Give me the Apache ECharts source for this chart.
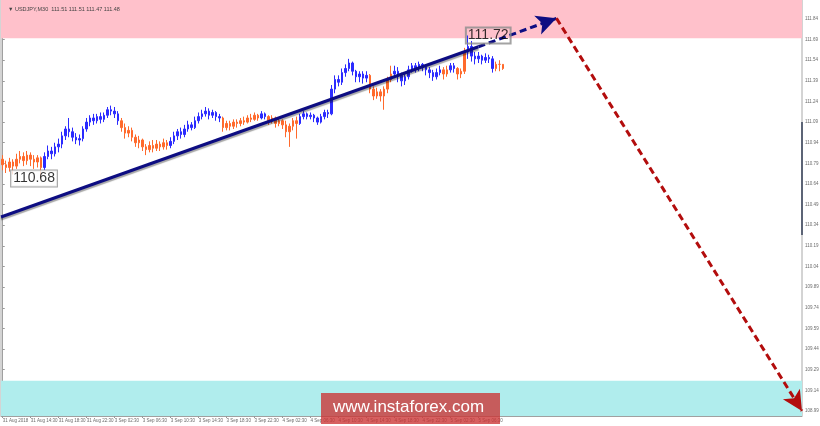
<!DOCTYPE html>
<html>
<head>
<meta charset="utf-8">
<script src="https://cdn.jsdelivr.net/npm/echarts@6/dist/echarts.min.js"></script>
<style>
  html, body { margin: 0; padding: 0; background: #fff; }
  #chart { width: 820px; height: 426px; }
</style>
</head>
<body>
<div id="chart"></div>
<script>
// USDJPY M30 bars: [open, close, low, high]
var bars = [
  [110.82,110.78,110.74,110.85],[110.78,110.76,110.72,110.81],[110.76,110.80,110.73,110.83],[110.80,110.77,110.71,110.82],
  [110.77,110.82,110.75,110.86],[110.82,110.84,110.79,110.88],[110.84,110.81,110.77,110.87],[110.81,110.85,110.78,110.88],
  [110.85,110.82,110.77,110.87],[110.82,110.80,110.75,110.85],[110.80,110.83,110.76,110.85],[110.83,110.76,110.68,110.84],
  [110.76,110.84,110.74,110.87],[110.84,110.88,110.82,110.92],[110.88,110.86,110.82,110.91],[110.86,110.91,110.84,110.94],
  [110.91,110.93,110.87,110.97],[110.93,110.99,110.90,111.02],[110.99,111.04,110.96,111.06],[111.04,111.02,110.98,111.12],
  [111.02,110.98,110.95,111.05],[110.98,110.96,110.93,111.01],[110.96,110.97,110.92,111.00],[110.97,111.04,110.95,111.06],
  [111.04,111.09,111.02,111.12],[111.09,111.12,111.06,111.14],[111.12,111.10,111.07,111.15],[111.10,111.13,111.08,111.15],
  [111.13,111.11,111.08,111.16],[111.11,111.14,111.09,111.16],[111.14,111.18,111.12,111.20],[111.18,111.17,111.14,111.21],
  [111.17,111.15,111.12,111.20],[111.15,111.10,111.07,111.17],[111.10,111.05,111.02,111.12],[111.05,111.01,110.97,111.08],
  [111.01,111.03,110.98,111.06],[111.03,110.98,110.95,111.05],[110.98,110.94,110.91,111.00],[110.94,110.96,110.90,110.99],
  [110.96,110.91,110.88,110.97],[110.91,110.89,110.85,110.93],[110.89,110.92,110.87,110.95],[110.92,110.90,110.87,110.96],
  [110.90,110.93,110.88,110.96],[110.93,110.91,110.88,110.95],[110.91,110.94,110.89,110.97],[110.94,110.92,110.89,110.96],
  [110.92,110.95,110.90,110.98],[110.95,110.99,110.93,111.02],[110.99,111.02,110.96,111.04],[111.02,111.00,110.97,111.05],
  [111.00,111.04,110.98,111.07],[111.04,111.07,111.02,111.10],[111.07,111.05,111.03,111.09],[111.05,111.10,111.04,111.13],
  [111.10,111.13,111.08,111.16],[111.13,111.15,111.11,111.18],[111.15,111.17,111.13,111.20],[111.17,111.14,111.11,111.19],
  [111.14,111.16,111.12,111.18],[111.16,111.13,111.10,111.17],[111.13,111.12,111.09,111.15],[111.12,111.05,111.02,111.13],
  [111.05,111.08,111.03,111.10],[111.08,111.06,111.03,111.10],[111.06,111.09,111.04,111.11],[111.09,111.08,111.05,111.11],
  [111.08,111.10,111.06,111.12],[111.10,111.09,111.07,111.13],[111.09,111.12,111.08,111.14],[111.12,111.11,111.09,111.15],
  [111.11,111.14,111.10,111.16],[111.14,111.12,111.10,111.15],[111.12,111.15,111.11,111.17],[111.15,111.13,111.11,111.16],
  [111.13,111.10,111.07,111.14],[111.10,111.12,111.08,111.14],[111.12,111.08,111.05,111.13],[111.08,111.10,111.06,111.12],
  [111.10,111.07,111.04,111.11],[111.07,111.02,110.98,111.10],[111.02,111.06,110.91,111.08],[111.06,111.10,111.03,111.12],
  [111.10,111.08,110.97,111.13],[111.08,111.13,111.07,111.15],[111.13,111.15,111.11,111.17],[111.15,111.13,111.11,111.16],
  [111.13,111.14,111.11,111.16],[111.14,111.12,111.09,111.15],[111.12,111.09,111.07,111.13],[111.09,111.13,111.08,111.15],
  [111.13,111.16,111.11,111.18],[111.16,111.15,111.12,111.18],[111.15,111.33,111.14,111.36],[111.33,111.40,111.30,111.43],
  [111.40,111.38,111.35,111.43],[111.38,111.45,111.36,111.48],[111.45,111.48,111.42,111.51],[111.48,111.52,111.46,111.55],
  [111.52,111.46,111.43,111.53],[111.46,111.42,111.38,111.47],[111.42,111.44,111.38,111.46],[111.44,111.41,111.37,111.46],
  [111.41,111.43,111.38,111.46],[111.43,111.33,111.30,111.44],[111.33,111.28,111.25,111.35],[111.28,111.31,111.26,111.34],
  [111.31,111.28,111.24,111.33],[111.28,111.33,111.18,111.35],[111.33,111.40,111.30,111.42],[111.40,111.44,111.38,111.50],
  [111.44,111.46,111.41,111.50],[111.46,111.43,111.38,111.49],[111.43,111.39,111.35,111.45],[111.39,111.42,111.36,111.45],
  [111.42,111.47,111.40,111.50],[111.47,111.50,111.45,111.52],[111.50,111.48,111.45,111.52],[111.48,111.51,111.46,111.53],
  [111.51,111.49,111.46,111.52],[111.49,111.47,111.43,111.51],[111.47,111.45,111.41,111.49],[111.45,111.42,111.39,111.47],
  [111.42,111.45,111.40,111.48],[111.45,111.47,111.43,111.50],[111.47,111.44,111.40,111.49],[111.44,111.47,111.42,111.50],
  [111.47,111.50,111.45,111.52],[111.50,111.48,111.45,111.52],[111.48,111.44,111.40,111.49],[111.44,111.46,111.41,111.48],
  [111.46,111.60,111.44,111.63],[111.60,111.64,111.55,111.72],[111.64,111.57,111.53,111.68],[111.57,111.55,111.51,111.60],
  [111.55,111.57,111.52,111.60],[111.57,111.54,111.51,111.58],[111.54,111.56,111.52,111.59],[111.56,111.55,111.52,111.58],
  [111.55,111.48,111.45,111.57],[111.48,111.51,111.46,111.53],[111.51,111.51,111.46,111.54],[111.51,111.48,111.47,111.51]
];
// bar index ranges of the rising legs (drawn blue), everything else orange
var upLegs = [[12,33],[48,62],[74,75],[85,104],[112,125],[128,129],[133,140]];

// time axis: one label every 8 bars (4 hours)
var timeLabels = ['31 Aug 2018','31 Aug 14:30','31 Aug 18:30','31 Aug 22:30','3 Sep 02:30','3 Sep 06:30',
  '3 Sep 10:30','3 Sep 14:30','3 Sep 18:30','3 Sep 22:30','4 Sep 02:30','4 Sep 06:30','4 Sep 10:30',
  '4 Sep 14:30','4 Sep 18:30','4 Sep 22:30','5 Sep 02:30','5 Sep 06:30'];
var labelStep = 8;
var slotCount = 229;

var priceTicks = [108.99,109.14,109.29,109.44,109.59,109.74,109.89,110.04,110.19,110.34,
  110.49,110.64,110.79,110.94,111.09,111.24,111.39,111.54,111.69,111.84];
var yMin = 108.953, yMax = 111.978;

var sellZone = [111.70, yMax];
var buyZone = [yMin, 109.21];

// wave line (bar index, price)
var waveLine = [[-0.5, 110.40], [136, 111.638]];
var waveTarget = [158.3, 111.845];
var forecastEnd = [228.5, 108.99];
var lowMark = { name: '110.68', at: [2.4, 110.68] };
var highMark = { name: '111.72', at: [132.4, 111.72] };
var lastPrice = 111.48;
var scaleBar = [111.09, 110.27];

var BLUE = '#2b2bff', ORANGE = '#ff6a2c', NAVY = '#0d0d82', RED = '#b30d0d';
var TINY = { fontSize: 4.5, color: '#6a6a6a', fontFamily: 'Liberation Sans' };

function legColor(i) {
  for (var k = 0; k < upLegs.length; k++) {
    if (i >= upLegs[k][0] && i <= upLegs[k][1]) return BLUE;
  }
  return ORANGE;
}

var cats = [];
for (var i = 0; i < slotCount; i++) cats.push('b' + i);

var candleData = bars.map(function (b, i) {
  var c = legColor(i);
  return { value: b, itemStyle: { color: c, color0: c, borderColor: c, borderColor0: c, borderWidth: 1 } };
});

function isLabelSlot(idx) {
  return idx % labelStep === 0 && idx / labelStep < timeLabels.length;
}

var chart = echarts.init(document.getElementById('chart'));
chart.setOption({
  animation: false,
  backgroundColor: '#fff',
  title: {
    text: '\u25BC USDJPY,M30  111.51 111.51 111.47 111.48',
    left: 3, top: 1,
    textStyle: { fontSize: 5.5, fontWeight: 'normal', color: '#444', fontFamily: 'Liberation Sans' }
  },
  grid: { left: 1, right: 18, top: 0, bottom: 10, show: true, borderColor: '#a8a8a8', borderWidth: 1, outerBoundsMode: 'none' },
  xAxis: [{
    type: 'category',
    data: cats,
    boundaryGap: true,
    axisLine: { lineStyle: { color: '#a0a0a0' } },
    axisTick: { show: true, length: 2, alignWithLabel: true, interval: function (idx) { return isLabelSlot(idx); }, lineStyle: { color: '#999' } },
    axisLabel: Object.assign({
      interval: function (idx) { return isLabelSlot(idx); },
      formatter: function (v, idx) { return isLabelSlot(idx) ? timeLabels[idx / labelStep] : ''; },
      showMinLabel: true,
      hideOverlap: false,
      align: 'left', margin: 2
    }, TINY),
    splitLine: { show: false }
  }, {
    type: 'value',
    min: -0.5, max: slotCount - 0.5,
    show: false
  }],
  yAxis: {
    type: 'value',
    position: 'right',
    min: yMin, max: yMax,
    axisLine: { show: true, lineStyle: { color: '#a0a0a0' } },
    axisTick: { show: true, length: 2, customValues: priceTicks, lineStyle: { color: '#999' } },
    axisLabel: Object.assign({
      customValues: priceTicks,
      formatter: function (v) { return v.toFixed(2); },
      margin: 3
    }, TINY),
    splitLine: { show: false }
  },
  series: [{
    name: 'zones',
    type: 'line',
    data: [],
    z: 1,
    silent: true,
    markArea: {
      silent: true,
      data: [
        [{ yAxis: sellZone[0], itemStyle: { color: '#ffc1cb' } }, { yAxis: sellZone[1] }],
        [{ yAxis: buyZone[0], itemStyle: { color: '#b0eded' } }, { yAxis: buyZone[1] }]
      ]
    }
  }, {
    name: 'USDJPY',
    type: 'candlestick',
    data: candleData,
    barWidth: 2,
    z: 3,
    markLine: {
      silent: true,
      symbol: 'none',
      lineStyle: { opacity: 0 },
      label: {
        position: 'end', distance: 1, formatter: lastPrice.toFixed(2),
        color: '#fff', backgroundColor: '#3e4858', padding: [1, 2], fontSize: 4.5, fontFamily: 'Liberation Sans'
      },
      data: [{ yAxis: lastPrice }]
    }
  }, {
    name: 'wave',
    type: 'line',
    xAxisIndex: 1,
    data: waveLine,
    symbol: 'none',
    z: 4,
    lineStyle: { color: NAVY, width: 3, shadowColor: 'rgba(0,0,0,0.35)', shadowOffsetY: 2, shadowBlur: 1 },
    markLine: {
      silent: true,
      symbol: ['none', 'arrow'],
      symbolSize: [15, 20],
      label: { show: false },
      data: [
        [{ coord: waveLine[1], lineStyle: { color: NAVY, width: 3, type: [7, 4] }, itemStyle: { color: NAVY } },
         { coord: waveTarget }],
        [{ coord: waveTarget, lineStyle: { color: RED, width: 3, type: [7, 4] }, itemStyle: { color: RED } },
         { coord: forecastEnd }],
        [{ coord: [slotCount - 0.5, scaleBar[0]], symbol: 'none', lineStyle: { color: '#5c6476', width: 2, type: 'solid' } },
         { coord: [slotCount - 0.5, scaleBar[1]], symbol: 'none' }]
      ]
    }
  }, {
    name: 'marks',
    type: 'scatter',
    xAxisIndex: 1,
    symbolSize: 0,
    z: 5,
    silent: true,
    data: [
      { name: lowMark.name, value: lowMark.at, label: { backgroundColor: '#fff' } },
      { name: highMark.name, value: highMark.at, label: { backgroundColor: 'transparent' } }
    ],
    label: {
      show: true, position: 'right', distance: 0, formatter: '{b}',
      fontSize: 14, color: '#000', fontFamily: 'Liberation Sans',
      borderColor: '#8c8c8c', borderWidth: 1, padding: [1, 2, 0, 2], lineHeight: 15
    }
  }],
  graphic: [{
    type: 'rect',
    left: 321, top: 393,
    z: 100,
    shape: { width: 179, height: 31 },
    style: { fill: 'rgba(204,51,51,0.78)' }
  }, {
    type: 'text',
    left: 333, top: 399,
    z: 101,
    style: { text: 'www.instaforex.com', fill: '#fff', font: '17px "Liberation Sans", Arial, sans-serif' }
  }]
});
</script>
</body>
</html>
